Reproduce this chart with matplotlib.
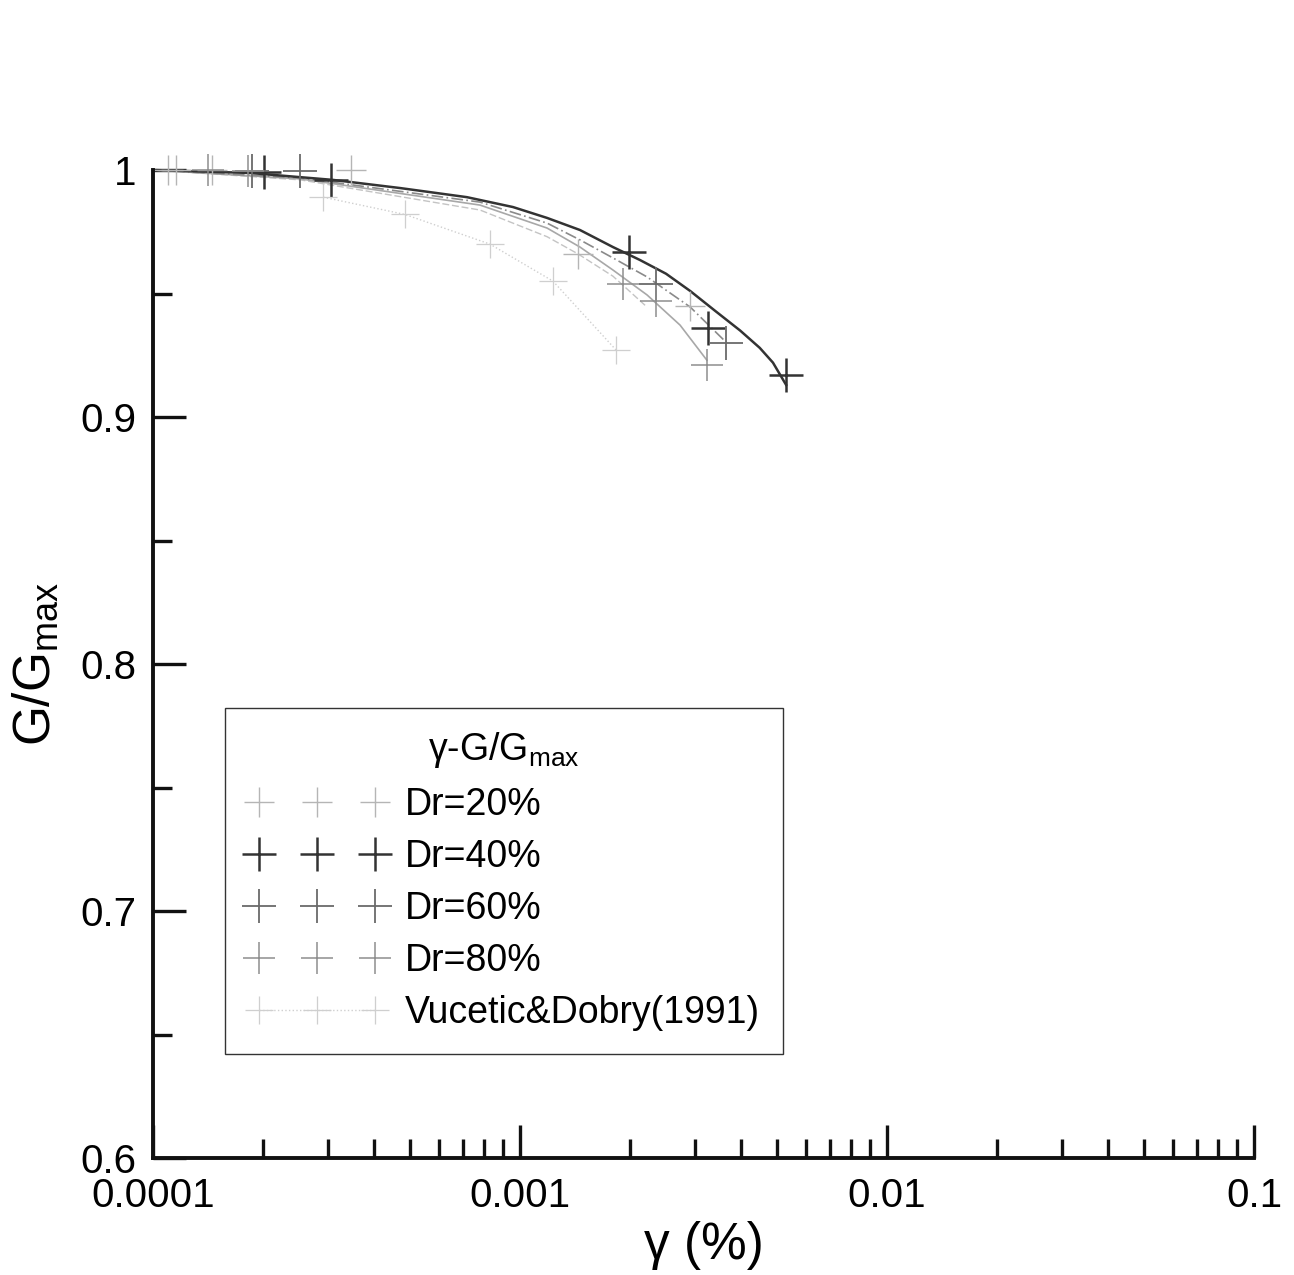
import matplotlib
matplotlib.use("Agg")
import matplotlib.pyplot as plt
from matplotlib.ticker import FixedLocator, NullFormatter

plt.rcParams['font.family'] = ['Liberation Sans', 'DejaVu Sans']
plt.rcParams['mathtext.default'] = 'regular'

# ---- data (strain in %, G/Gmax) ----
dr20_x = [1.10e-4, 1.155e-4, 1.45e-4, 3.46e-4, 1.44e-3, 2.91e-3]
dr20_y = [1.0, 1.0, 1.0, 1.0, 0.966, 0.945]
dr40_x = [2.01e-4, 3.05e-4, 1.98e-3, 3.25e-3, 5.31e-3]
dr40_y = [0.9992, 0.996, 0.967, 0.936, 0.917]
dr60_x = [1.86e-4, 2.52e-4, 2.35e-3, 3.64e-3]
dr60_y = [0.9996, 0.9996, 0.954, 0.930]
dr80_x = [1.41e-4, 1.81e-4, 1.91e-3, 2.35e-3, 3.23e-3]
dr80_y = [1.0, 0.9996, 0.954, 0.947, 0.921]
vd_x = [2.91e-4, 4.86e-4, 8.28e-4, 1.23e-3, 1.83e-3]
vd_y = [0.989, 0.982, 0.970, 0.955, 0.927]

# fitted curves
c40_x = [1e-4, 1.838e-4, 3.09e-4, 4.71e-4, 7.17e-4, 9.57e-4, 1.185e-3, 1.457e-3,
         1.792e-3, 2.12e-3, 2.5e-3, 2.91e-3, 3.4e-3, 3.98e-3, 4.5e-3, 4.89e-3, 5.31e-3]
c40_y = [1.0, 0.9988, 0.996, 0.9927, 0.989, 0.985, 0.9806, 0.9757, 0.9688,
         0.9636, 0.958, 0.951, 0.943, 0.935, 0.928, 0.922, 0.913]
c60_x = [1e-4, 2.52e-4, 7.78e-4, 1.185e-3, 1.457e-3, 1.792e-3, 2.22e-3, 2.91e-3, 3.66e-3]
c60_y = [1.0, 0.9968, 0.987, 0.9785, 0.9717, 0.9644, 0.9567, 0.9445, 0.930]
c80_x = [1e-4, 2.52e-4, 7.78e-4, 1.185e-3, 1.457e-3, 1.792e-3, 2.22e-3, 2.73e-3, 3.23e-3]
c80_y = [1.0, 0.9964, 0.9858, 0.9765, 0.9688, 0.9595, 0.9494, 0.9372, 0.923]
c20_x = [1e-4, 2.52e-4, 7.78e-4, 1.185e-3, 1.44e-3, 1.792e-3, 2.2e-3]
c20_y = [1.0, 0.996, 0.9838, 0.973, 0.966, 0.957, 0.945]

xticks = [1e-4, 1e-3, 1e-2, 1e-1]
xticklabels = ["0.0001", "0.001", "0.01", "0.1"]
yticks = [0.6, 0.7, 0.8, 0.9, 1.0]
yticklabels = ["0.6", "0.7", "0.8", "0.9", "1"]

fig = plt.figure(figsize=(12.94, 12.75), dpi=100)
ax = fig.add_axes([153/1294, 1 - 1158/1275, (1254-153)/1294, (1158-170)/1275])

# curves
ax.plot(c20_x, c20_y, color='#c4c4c4', lw=1.0, ls=(0, (5, 2)), clip_on=False)
ax.plot(c80_x, c80_y, color='#a8a8a8', lw=1.2, clip_on=False)
ax.plot(c60_x, c60_y, color='#8a8a8a', lw=1.2, ls=(0, (7, 2, 1, 2)), clip_on=False)
ax.plot(c40_x, c40_y, color='#333333', lw=1.8, clip_on=False)

# points
ax.plot(dr20_x, dr20_y, ls='none', marker='+', ms=22, mew=1.0, color='#b5b5b5',
        clip_on=False, label='Dr=20%')
ax.plot(dr40_x, dr40_y, ls='none', marker='+', ms=25, mew=1.8, color='#333333',
        clip_on=False, label='Dr=40%')
ax.plot(dr60_x, dr60_y, ls='none', marker='+', ms=24, mew=1.3, color='#6a6a6a',
        clip_on=False, label='Dr=60%')
ax.plot(dr80_x, dr80_y, ls='none', marker='+', ms=23, mew=1.1, color='#8e8e8e',
        clip_on=False, label='Dr=80%')
ax.plot(vd_x, vd_y, ls=':', lw=1.0, marker='+', ms=20, mew=0.9, color='#cfcfcf',
        clip_on=False, label='Vucetic&Dobry(1991)')

ax.set_xscale('log')
ax.set_xlim(1e-4, 1e-1)
ax.set_ylim(0.6, 1.0)

ax.xaxis.set_major_locator(FixedLocator(xticks))
ax.set_xticklabels(xticklabels)
minors = [m * 10.0**e for e in (-4, -3, -2) for m in range(2, 10)]
ax.xaxis.set_minor_locator(FixedLocator(minors))
ax.xaxis.set_minor_formatter(NullFormatter())
ax.yaxis.set_major_locator(FixedLocator(yticks))
ax.set_yticklabels(yticklabels)
ax.yaxis.set_minor_locator(FixedLocator([0.65, 0.75, 0.85, 0.95]))

for s in ('top', 'right'):
    ax.spines[s].set_visible(False)
for s in ('left', 'bottom'):
    ax.spines[s].set_linewidth(2.8)
    ax.spines[s].set_color('#111111')

ax.tick_params(which='major', direction='in', length=24, width=2.4, color='#111111',
               labelsize=29, pad=12)
ax.tick_params(which='minor', direction='in', length=14, width=2.4, color='#111111')
ax.tick_params(axis='x', which='major', pad=14)

ax.set_xlabel('γ (%)', fontsize=37, labelpad=4)
ax.set_ylabel('G/G$_{max}$', fontsize=37, labelpad=14)

leg = ax.legend(loc='upper left', bbox_to_anchor=(225/1294, 1 - 708/1275),
                bbox_transform=fig.transFigure, borderaxespad=0,
                title='γ-G/G$_{max}$', title_fontsize=27, fontsize=27,
                numpoints=3, handlelength=3.7, handletextpad=0.5,
                labelspacing=0.43, borderpad=0.6, fancybox=False,
                frameon=True, edgecolor='#333333', framealpha=1)
leg.get_frame().set_linewidth(1.0)

fig.savefig('out.png', dpi=100, facecolor='white')
